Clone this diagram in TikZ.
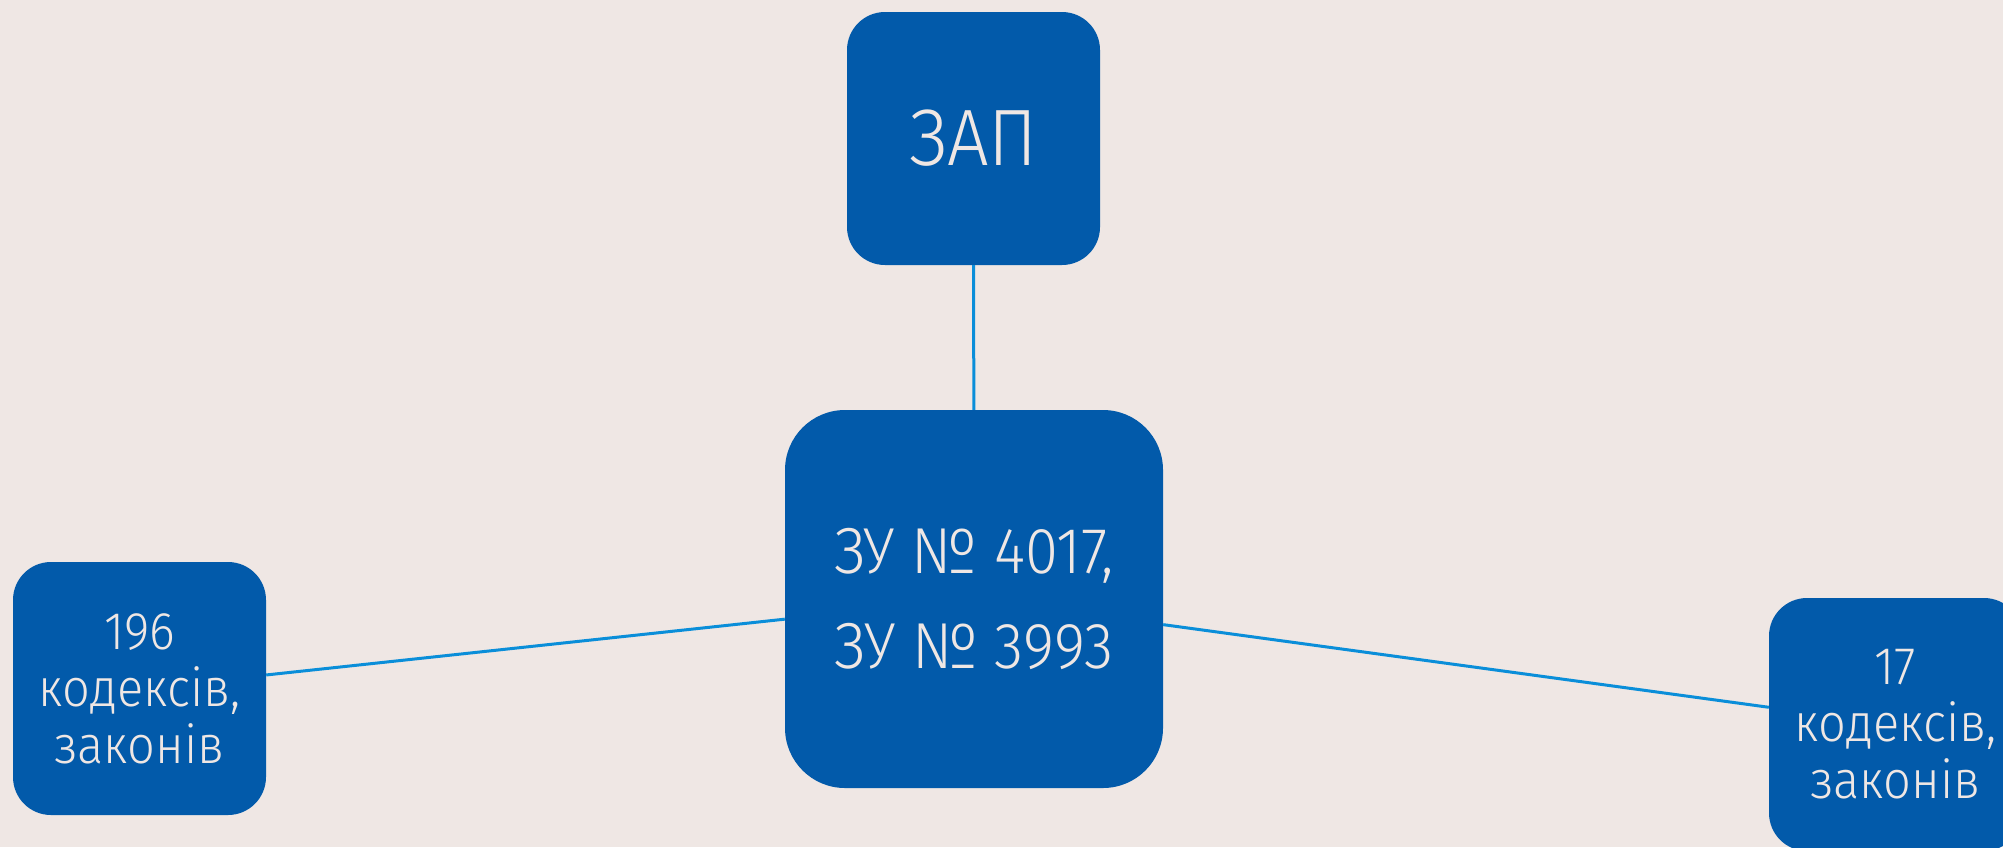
\documentclass[tikz,border=0pt]{standalone}
\usepackage{fontspec}
\setmainfont{Fira Sans Light}[FakeStretch=0.92]
\definecolor{bg}{HTML}{EFE7E4}
\definecolor{boxblue}{HTML}{025AAA}
\definecolor{linkblue}{HTML}{0A8ED9}
\begin{document}
\begin{tikzpicture}[x=1pt,y=-1pt,
  box/.style={fill=boxblue, text=bg, inner sep=0pt, align=center},
  smallbox/.style={box, minimum width=253pt, minimum height=253pt, rounded corners=38pt},
  link/.style={draw=linkblue, line width=3pt}]
\fill[bg] (0,0) rectangle (2003,847);
\useasboundingbox (0,0) rectangle (2003,847);
\node[smallbox, font=\fontsize{80}{96}\selectfont] (zap) at (973.5,138.5) {ЗАП};
\node[box, minimum width=378pt, minimum height=378pt, rounded corners=60pt, font=\fontsize{65}{95}\selectfont] (zu) at (974,599) {ЗУ № 4017,\\ЗУ № 3993};
\node[smallbox, font=\fontsize{53}{57}\selectfont] (left) at (139.5,688.5) {196\\кодексів,\\законів};
\node[smallbox, font=\fontsize{53}{57}\selectfont] (right) at (1895.5,724.5) {17\\кодексів,\\законів};
\draw[link] (zap) -- (zu);
\draw[link] (left) -- (zu);
\draw[link] (zu) -- (right);
\end{tikzpicture}
\end{document}
